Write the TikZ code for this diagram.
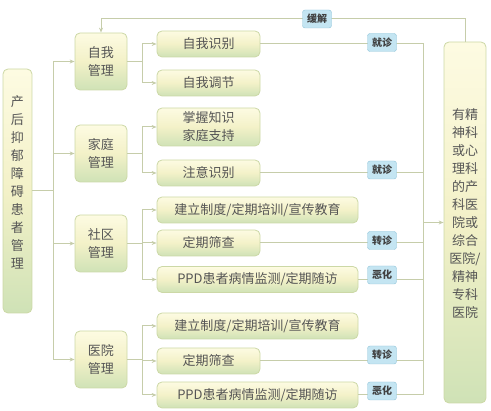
\documentclass[tikz,border=0pt]{standalone}
\usepackage{fontspec}
\setmainfont{Noto Sans CJK SC}
\usetikzlibrary{arrows.meta}
\definecolor{linec}{HTML}{C6CDAA}
\definecolor{boxborder}{HTML}{CCD8A6}
\definecolor{boxtop}{HTML}{FDFBE2}
\definecolor{boxmid}{HTML}{F3F1C8}
\definecolor{boxbot}{HTML}{CFE2B6}
\definecolor{txt}{HTML}{555555}
\definecolor{labfill}{HTML}{C4E5F2}
\definecolor{labborder}{HTML}{8FC3D8}
\tikzset{
  box/.style={draw=boxborder, line width=0.8pt, rounded corners=5pt,
    top color=boxtop, bottom color=boxbot, middle color=boxmid,
    text=txt, align=center, inner sep=0pt, font=\fontsize{13}{18}\selectfont},
  lab/.style={draw=labborder, fill=labfill, rounded corners=2.5pt, text=black!75,
    minimum width=29pt, minimum height=18pt, inner sep=0pt,
    font=\fontsize{10}{12}\selectfont\bfseries},
  conn/.style={draw=linec, line width=1pt},
  arr/.style={conn, -{Stealth[length=5pt,width=4pt]}},
}
\begin{document}
\begin{tikzpicture}[x=1pt,y=-1pt]
\useasboundingbox (0,0) rectangle (491,411);
% left and right boxes
\node[box, minimum width=29pt, minimum height=244pt] (L) at (17.5,191)
  {产\\后\\抑\\郁\\障\\碍\\患\\者\\管\\理\\\mbox{}};
\node[box, minimum width=42pt, minimum height=361pt] (R) at (465,222.5)
  {有精\\神科\\或心\\理科\\的产\\科医\\院或\\综合\\医院/\\精神\\专科\\医院\\\mbox{}};
% second level
\node[box, minimum width=52pt, minimum height=57pt] (S1) at (101,61.5) {自我\\管理};
\node[box, minimum width=52pt, minimum height=57pt] (S2) at (101,153.5) {家庭\\管理};
\node[box, minimum width=52pt, minimum height=57pt] (S3) at (101,243.5) {社区\\管理};
\node[box, minimum width=52pt, minimum height=57pt] (S4) at (101,359.5) {医院\\管理};
% third level
\node[box, minimum width=103pt, minimum height=26pt] (C11) at (208.5,44) {自我识别};
\node[box, minimum width=103pt, minimum height=26pt] (C12) at (208.5,83) {自我调节};
\node[box, minimum width=103pt, minimum height=38pt] (C21) at (208.5,127) {掌握知识\\家庭支持};
\node[box, minimum width=103pt, minimum height=26pt] (C22) at (208.5,173) {注意识别};
\node[box, minimum width=201pt, minimum height=26pt] (C31) at (257.5,210) {建立制度/定期培训/宣传教育};
\node[box, minimum width=103pt, minimum height=26pt] (C32) at (208.5,243) {定期筛查};
\node[box, minimum width=201pt, minimum height=26pt] (C33) at (257.5,279.5) {PPD患者病情监测/定期随访};
\node[box, minimum width=201pt, minimum height=26pt] (C41) at (257.5,326) {建立制度/定期培训/宣传教育};
\node[box, minimum width=103pt, minimum height=26pt] (C42) at (208.5,361) {定期筛查};
\node[box, minimum width=201pt, minimum height=26pt] (C43) at (257.5,395) {PPD患者病情监测/定期随访};
% trunk
\coordinate (t1) at (53,61.5);
\coordinate (t4) at (53,359.5);
\draw[conn] (L.east) -- (L.east -| t1);
\draw[conn] (t1) -- (t4);
\draw[arr] (t1) -- (S1);
\draw[arr] (S2 -| t1) -- (S2);
\draw[arr] (S3 -| t1) -- (S3);
\draw[arr] (t4) -- (S4);
% branches
\coordinate (b1) at (142,61.5);
\coordinate (b2) at (142,153.5);
\coordinate (b3) at (142,243.5);
\coordinate (b4) at (142,359.5);
\draw[conn] (S1.east) -- (b1);
\draw[arr] (b1) |- (C11.west);
\draw[arr] (b1) |- (C12.west);
\draw[conn] (S2.east) -- (b2);
\draw[arr] (b2) |- (C21.west);
\draw[arr] (b2) |- (C22.west);
\draw[conn] (S3.east) -- (b3);
\draw[arr] (b3) |- (C31.west);
\draw[arr] (b3) |- (C32.west);
\draw[arr] (b3) |- (C33.west);
\draw[conn] (S4.east) -- (b4);
\draw[arr] (b4) |- (C41.west);
\draw[arr] (b4) |- (C42.west);
\draw[arr] (b4) |- (C43.west);
% right bus
\coordinate (bt) at (423,44);
\coordinate (bb) at (423,395);
\draw[conn] (C11.east) -- (bt) -- (bb) -- (C43.east);
\draw[conn] (C22.east) -- (C22.east -| bt);
\draw[conn] (C32.east) -- (C32.east -| bt);
\draw[conn] (C33.east) -- (C33.east -| bt);
\draw[conn] (C42.east) -- (C42.east -| bt);
\draw[arr] (R.west -| bt) -- (R.west);
% relief loop
\draw[arr] (R.north) -- ++(0,-23) -| (S1.north);
% labels
\node[lab] (k0) at (317,19) {缓解};
\node[lab] (k1) at (382,42.5) {就诊};
\node[lab] (k2) at (382,170) {就诊};
\node[lab] (k3) at (382,240.5) {转诊};
\node[lab] (k4) at (382,275) {恶化};
\node[lab] (k5) at (382,355) {转诊};
\node[lab] (k6) at (382,391) {恶化};
\end{tikzpicture}
\end{document}
